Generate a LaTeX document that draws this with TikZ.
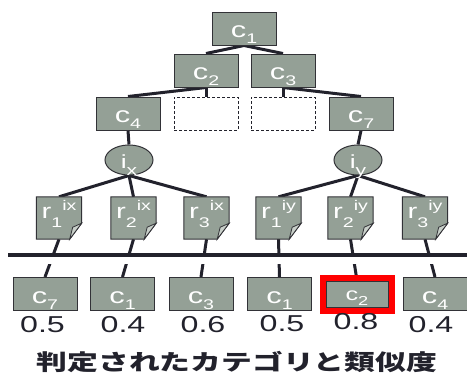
\documentclass[tikz,border=0pt]{standalone}
\usepackage{graphicx}
\usepackage{fontspec}
\setmainfont{Liberation Sans}
\newfontfamily\jpfont{Noto Sans CJK JP}
\usetikzlibrary{shapes.geometric,backgrounds}
\definecolor{boxgray}{RGB}{148,160,150}
\definecolor{boxborder}{RGB}{50,50,55}
\definecolor{edgec}{RGB}{34,34,44}
\definecolor{foldc}{RGB}{200,207,201}
\definecolor{redc}{RGB}{255,0,0}
\newcommand\clab[1]{\scalebox{1.4}[1]{\fontsize{22}{22}\selectfont c\raisebox{-6pt}{\fontsize{14}{14}\selectfont #1}}}
\newcommand\csmall[1]{\scalebox{1.4}[1]{\fontsize{18}{18}\selectfont c\raisebox{-5pt}{\fontsize{13}{13}\selectfont #1}}}
\newcommand\rlab[2]{\scalebox{1.4}[1]{\fontsize{21}{21}\selectfont r\raisebox{-9pt}{\fontsize{14}{14}\selectfont #1}\raisebox{8pt}{\fontsize{14}{14}\selectfont #2}}}
\newcommand\ilab[1]{\scalebox{1.4}[1]{\fontsize{19}{19}\selectfont i\raisebox{-7pt}{\fontsize{15}{15}\selectfont #1}}}
\newcommand\nlab[1]{\scalebox{1.4}[1]{\fontsize{23}{23}\selectfont #1}}
\tikzset{
  cbox/.style={draw=boxborder, line width=1pt, fill=boxgray, minimum width=64pt, minimum height=33pt,
    inner sep=0pt, text=white, text height=20pt, text depth=2pt},
  dbox/.style={draw=edgec, dash pattern=on 3pt off 2pt, line width=1pt, fill=white,
    minimum width=64pt, minimum height=33pt, inner sep=0pt},
  ebox/.style={ellipse, draw=boxborder, line width=1pt, fill=boxgray, minimum width=48pt,
    minimum height=30pt, inner sep=0pt, text=white, text height=18pt, text depth=2pt},
  rbox/.style={minimum width=45pt, minimum height=42pt, inner sep=0pt, text=white,
    text height=10pt, text depth=10pt},
  conn/.style={draw=edgec, line width=3pt},
  numtxt/.style={text=edgec, inner sep=0pt},
}
\begin{document}
\begin{tikzpicture}[x=1pt, y=-1pt]
\useasboundingbox (0,0) rectangle (467,373);
% tree
\node[cbox] (c1) at (244,28.5) {\clab{1}};
\node[cbox] (c2) at (206,70.5) {\clab{2}};
\node[cbox] (c3) at (283,70.5) {\clab{3}};
\node[cbox] (c4) at (128,113.5) {\clab{4}};
\node[dbox] (d1) at (206,113.5) {};
\node[dbox] (d2) at (283,113.5) {};
\node[cbox] (c7) at (361,113.5) {\clab{7}};
\node[ebox] (ix) at (129,160) {\ilab{x}};
\node[ebox] (iy) at (358,160) {\ilab{y}};
% result boxes
\node[rbox] (r1x) at (59,218) {\rlab{1}{ix}};
\node[rbox] (r2x) at (133.5,218) {\rlab{2}{ix}};
\node[rbox] (r3x) at (206.5,218) {\rlab{3}{ix}};
\node[rbox] (r1y) at (278.5,218) {\rlab{1}{iy}};
\node[rbox] (r2y) at (350.5,218) {\rlab{2}{iy}};
\node[rbox] (r3y) at (425,218) {\rlab{3}{iy}};
% bottom categories
\node[cbox] (b1) at (45,294) {\clab{7}};
\node[cbox] (b2) at (122.5,294) {\clab{1}};
\node[cbox] (b3) at (201,294) {\clab{3}};
\node[cbox] (b4) at (279.5,294) {\clab{1}};
\node[cbox, minimum width=62pt, minimum height=26pt, text height=15pt, text depth=2pt] (b5) at (357,294) {\csmall{2}};
\node[cbox] (b6) at (435,294) {\clab{4}};
\draw[redc, line width=6pt] ([xshift=-3pt,yshift=3pt]b5.north west) rectangle ([xshift=3pt,yshift=-3pt]b5.south east);
% scores
\node[numtxt] (s1) at (42.5,325) {\nlab{0.5}};
\node[numtxt] (s2) at (123,325) {\nlab{0.4}};
\node[numtxt] (s3) at (203,325) {\nlab{0.6}};
\node[numtxt] (s4) at (282,323.5) {\nlab{0.5}};
\node[numtxt] (s5) at (356,322) {\nlab{0.8}};
\node[numtxt] (s6) at (431,325) {\nlab{0.4}};
\node[numtxt] (cap) at (237,362) {\scalebox{1.4}[1]{\jpfont\bfseries\fontsize{22}{22}\selectfont 判定されたカテゴリと類似度}};
\begin{pgfonlayer}{background}
  \draw[conn] (c1.south) -- (c2.north);
  \draw[conn] (c1.south) -- (c3.north);
  \draw[conn] (c2.south) -- (c4.north);
  \draw[conn] (c2.south) -- (d1.north);
  \draw[conn] (c3.south) -- (d2.north);
  \draw[conn] (c3.south) -- (c7.north);
  \draw[conn] (c4.south) -- (ix.north);
  \draw[conn] (c7.south) -- (iy.north);
  \foreach \r in {r1x,r2x,r3x} \draw[conn] (ix.south) -- (\r.north);
  \foreach \r in {r1y,r2y,r3y} \draw[conn] (iy.south) -- (\r.north);
  \draw[conn] (r1x.south) -- (b1.north);
  \draw[conn] (r2x.south) -- (b2.north);
  \draw[conn] (r3x.south) -- (b3.north);
  \draw[conn] (r1y.south) -- (b4.north);
  \draw[conn] (r2y.south) -- (b5.north);
  \draw[conn] (r3y.south) -- (b6.north);
  \fill[white] (0,257) rectangle (467,263.5);
  \coordinate (barL) at (8,255);
  \coordinate (barR) at (467,255);
  \draw[edgec, line width=4pt] (barL) -- (barR);
  \foreach \r in {r1x,r2x,r3x,r1y,r2y,r3y}{
    \filldraw[fill=boxgray, draw=boxborder, line width=1pt]
      (\r.north west) -- (\r.north east) -- ([yshift=16pt]\r.south east)
      -- ([xshift=-12pt]\r.south east) -- (\r.south west) -- cycle;
    \filldraw[fill=foldc, draw=boxborder, line width=0.8pt]
      ([yshift=16pt]\r.south east) .. controls ([xshift=-4pt,yshift=14pt]\r.south east) .. ([xshift=-9pt,yshift=12pt]\r.south east)
      .. controls ([xshift=-10pt,yshift=6pt]\r.south east) .. ([xshift=-12pt]\r.south east) -- cycle;
  }
\end{pgfonlayer}
\end{tikzpicture}
\end{document}
